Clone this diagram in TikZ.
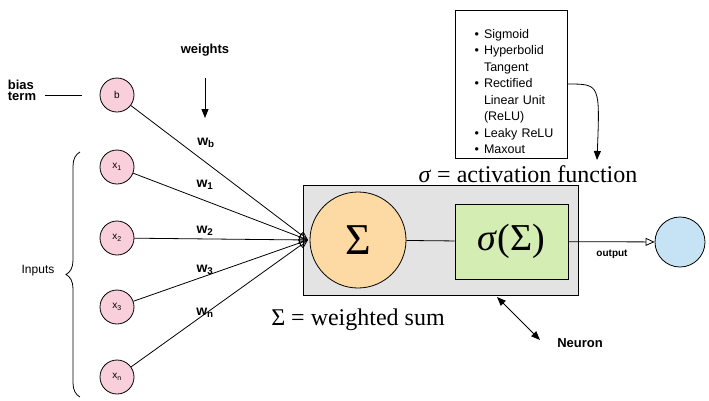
\documentclass[tikz,border=0pt]{standalone}
\usepackage{fontspec}
\setmainfont{Liberation Sans}
\newfontfamily\serifx{Liberation Serif}
\usetikzlibrary{arrows.meta,decorations.pathreplacing}
\definecolor{pinkf}{HTML}{F8CFDB}
\definecolor{orangef}{HTML}{FDD9A3}
\definecolor{greenf}{HTML}{D3EDB3}
\definecolor{bluef}{HTML}{C6E3F5}
\definecolor{grayf}{HTML}{E3E3E3}
\begin{document}
\begin{tikzpicture}[x=1pt,y=-1pt,line width=0.8pt,
  inp/.style={circle,draw,fill=pinkf,minimum size=34pt,inner sep=0pt,font=\fontsize{10}{11}\selectfont},
  wl/.style={font=\bfseries\fontsize{14}{15}\selectfont},
  lbl/.style={font=\bfseries\fontsize{13}{14}\selectfont},
  conn/.style={draw,-{Triangle[open,length=9pt,width=8pt]}}]
\useasboundingbox (0,0) rectangle (709,400);
\node[inp] (b) at (117,95) {b};
\node[inp] (x1) at (117,167) {x\textsubscript{1}};
\node[inp] (x2) at (117,238) {x\textsubscript{2}};
\node[inp] (x3) at (117,307) {x\textsubscript{3}};
\node[inp] (xn) at (117,377) {x\textsubscript{n}};
\node[lbl,align=left] (bias) at (22,90) {bias\\[-3pt]term};
\coordinate (bl1) at (45,95); \coordinate (bl2) at (82,95);
\draw (bl1) -- (bl2);
\node[lbl] (wt) at (205,50) {weights};
\coordinate (wa) at (205,78); \coordinate (wb2) at (205,118);
\draw[-{Triangle[length=9pt,width=7pt]}] (wa) -- (wb2);
\node[draw,fill=grayf,minimum width=275pt,minimum height=110pt,inner sep=0pt] (box) at (440.5,240) {};
\coordinate (conv) at (308,240);
\foreach \n in {b,x1,x2,x3,xn} \draw[conn] (\n) -- (conv);
\node[wl] (lb) at (206,143) {w\textsubscript{b}};
\node[wl] (l1) at (205,185) {w\textsubscript{1}};
\node[wl] (l2) at (205,231) {w\textsubscript{2}};
\node[wl] (l3) at (205,270) {w\textsubscript{3}};
\node[wl] (ln) at (205,313) {w\textsubscript{n}};
\node[circle,draw,fill=orangef,minimum size=96pt,inner sep=0pt,font=\serifx\fontsize{44}{46}\selectfont] (sig) at (358,240) {Σ};
\node[draw,fill=greenf,minimum width=113pt,minimum height=75pt,inner sep=0pt,font=\serifx\fontsize{38}{40}\selectfont] (act) at (511.5,241.5) {\textit{σ}(Σ)};
\draw (sig) -- (act);
\node[circle,draw,fill=bluef,minimum size=50pt,inner sep=0pt] (out) at (680,242) {};
\draw[conn] (act) -- (out);
\node[font=\bfseries\fontsize{10}{12}\selectfont] (ol) at (612,254) {output};
\node[draw,align=left,text width=104pt,minimum height=140pt,inner sep=4pt,font=\fontsize{12.5}{16.5}\selectfont] (list) at (511,84) {%
\begin{itemize}\setlength{\itemsep}{0pt}\setlength{\parskip}{0pt}\setlength{\leftmargin}{12pt}
\item[•] Sigmoid
\item[•] Hyperbolid\\Tangent
\item[•] Rectified\\Linear Unit\\(ReLU)
\item[•] Leaky ReLU
\item[•] Maxout
\end{itemize}};
\node[font=\serifx\fontsize{24}{26}\selectfont] (actf) at (528,174) {\textit{σ} = activation function};
\coordinate (ca) at (597,160);
\draw[-{Triangle[length=9pt,width=7pt]}] (list.east) .. controls (600,84) .. (ca);
\node[font=\serifx\fontsize{24}{26}\selectfont] (ws) at (358,320) {Σ = weighted sum};
\coordinate (n1) at (497,297); \coordinate (n2) at (540,340);
\draw[{Triangle[length=9pt,width=7pt]}-{Triangle[length=9pt,width=7pt]}] (n1) -- (n2);
\node[lbl] (neu) at (580,343) {Neuron};
\coordinate (br1) at (80,397); \coordinate (br2) at (80,152);
\draw[decorate,decoration={brace,amplitude=14pt}] (br1) -- (br2);
\node[font=\fontsize{12}{14}\selectfont] (inl) at (38,271) {Inputs};
\end{tikzpicture}
\end{document}
